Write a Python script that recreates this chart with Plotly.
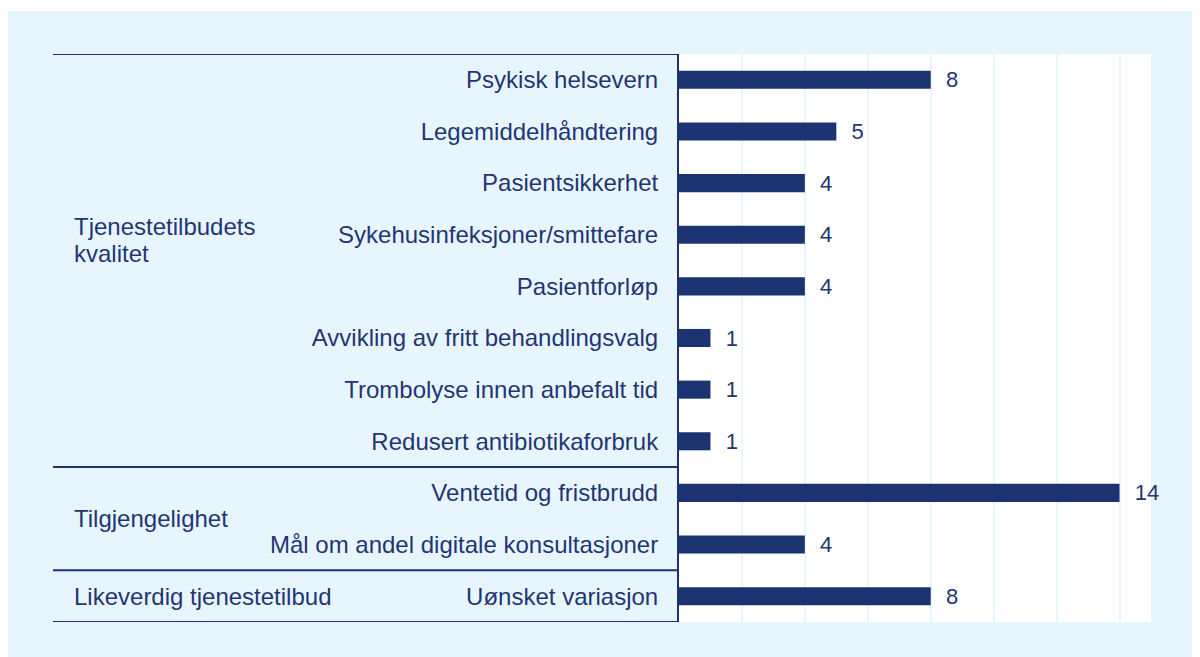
import plotly.graph_objects as go

categories = [
    "Psykisk helsevern",
    "Legemiddelhåndtering",
    "Pasientsikkerhet",
    "Sykehusinfeksjoner/smittefare",
    "Pasientforløp",
    "Avvikling av fritt behandlingsvalg",
    "Trombolyse innen anbefalt tid",
    "Redusert antibiotikaforbruk",
    "Ventetid og fristbrudd",
    "Mål om andel digitale konsultasjoner",
    "Uønsket variasjon",
]
values = [8, 5, 4, 4, 4, 1, 1, 1, 14, 4, 8]

group_lines = [["Tjenestetilbudets", "kvalitet"], ["Tilgjengelighet"], ["Likeverdig tjenestetilbud"]]
group_starts = [0, 8, 10]
group_ends = [7, 9, 10]

NAVY = "#1b3370"
TEXT = "#1f3673"
PANEL = "#e7f6fe"
GRID = "#e8f6fd"
FONT = "Liberation Sans, Arial, sans-serif"

# page body has an 8px margin; figure coordinates = reference pixel - 8
OFF = 8
W, H = 1192, 649
L, R, T, B = 671, 49, 46, 35
pw = W - L - R
ph = H - T - B


def px_x(px):
    return (px - OFF - L) / pw


def px_y(py):
    return (H - B - (py - OFF)) / ph


idx = list(range(len(categories)))

fig = go.Figure()
fig.add_trace(go.Bar(
    x=values,
    y=idx,
    orientation="h",
    marker=dict(color=NAVY, line=dict(width=0)),
    width=0.35,
    text=values,
    texttemplate="  %{x}",
    textposition="outside",
    constraintext="none",
    textfont=dict(family=FONT, size=22, color=TEXT),
    cliponaxis=False,
    hoverinfo="skip",
))

shapes = [
    dict(type="rect", xref="paper", yref="paper",
         x0=px_x(7), x1=px_x(1200), y0=px_y(657), y1=px_y(11),
         fillcolor=PANEL, line=dict(width=0), layer="below"),
    dict(type="rect", xref="paper", yref="paper",
         x0=0, x1=1, y0=0, y1=1,
         fillcolor="white", line=dict(width=0), layer="below"),
]
boundaries = [-0.5] + [e + 0.5 for e in group_ends]
for b in boundaries:
    shapes.append(dict(type="line", xref="paper", yref="y",
                       x0=px_x(53), x1=0, y0=b, y1=b,
                       line=dict(color=NAVY, width=2)))

annotations = []
for lines, s, e in zip(group_lines, group_starts, group_ends):
    n = len(lines)
    center = (s + e) / 2
    if n > 1:
        center -= 0.4
    step = 0.53
    for k, line in enumerate(lines):
        yv = center + (k - (n - 1) / 2) * step
        annotations.append(dict(
            x=px_x(72), xref="paper", xanchor="left",
            y=yv, yref="y", yanchor="middle",
            text=line, showarrow=False, align="left",
            font=dict(family=FONT, size=24, color=TEXT),
        ))

fig.update_layout(
    width=W, height=H,
    margin=dict(l=L, r=R, t=T, b=B),
    paper_bgcolor="white",
    plot_bgcolor="white",
    showlegend=False,
    bargap=0.65,
    shapes=shapes,
    annotations=annotations,
    font=dict(family=FONT, color=TEXT),
    xaxis=dict(range=[0, 15], dtick=2, showgrid=True, gridcolor=GRID, gridwidth=2,
               showticklabels=False, zeroline=False, showline=False, ticks=""),
    yaxis=dict(range=[10.5, -0.5], tickmode="array", tickvals=idx, ticktext=categories,
               tickfont=dict(family=FONT, size=24, color=TEXT),
               ticks="outside", ticklen=14, tickcolor="rgba(0,0,0,0)",
               showline=True, linecolor=NAVY, linewidth=2, showgrid=False, zeroline=False),
)

fig.write_html("out.html")
